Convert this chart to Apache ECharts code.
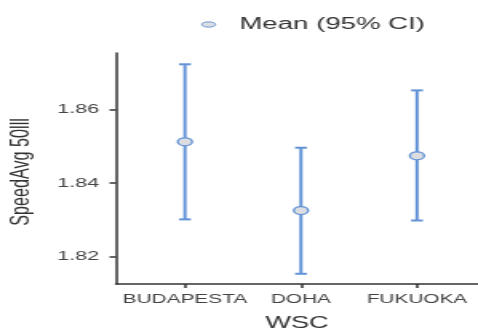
<!DOCTYPE html>
<html>
<head>
<meta charset="utf-8">
<script src="https://cdn.jsdelivr.net/npm/echarts@6/dist/echarts.min.js"></script>
<style>
html,body{margin:0;padding:0;background:#fff;overflow:hidden;}
#chart{width:299px;height:331px;transform:scaleX(1.5987);transform-origin:0 0;}
</style>
</head>
<body>
<div id="chart"></div>
<script>
const categories = ['BUDAPESTA', 'DOHA', 'FUKUOKA'];
const means = [1.8512, 1.8325, 1.8474];
const lower = [1.8301, 1.8153, 1.8298];
const upper = [1.8723, 1.8496, 1.8652];
const yTicks = [1.82, 1.84, 1.86];
const legendName = 'Mean (95% CI)';
const xName = 'WSC';
const yName = 'SpeedAvg 50lll';

const FONT = "'Liberation Sans', Arial, sans-serif";
const BLUE = '#6393d6';
const FILL = '#dcdde0';
const chart = echarts.init(document.getElementById('chart'));

const idx = categories.map((c, i) => i);
const barData = idx.map(i => [i, lower[i], upper[i]]);
const meanData = idx.map(i => [i, means[i]]);

chart.setOption({
  animation: false,
  backgroundColor: '#fff',
  grid: { left: 72.5, right: 0, top: 53, bottom: 47, containLabel: false, outerBoundsMode: 'none' },
  legend: {
    data: [{
      name: legendName,
      icon: 'path://M0,5 A8,5 0 1,1 16,5 A8,5 0 1,1 0,5 Z',
      itemStyle: { color: FILL, borderColor: BLUE, borderWidth: 1 }
    }],
    left: 120.8, top: 11,
    itemWidth: 8.4, itemHeight: 5.2,
    textStyle: { fontFamily: FONT, fontSize: 17.3, color: '#333', padding: [0, 0, 0, 10] }
  },
  xAxis: {
    type: 'value',
    min: -0.595, max: 2.526,
    name: xName, nameLocation: 'middle', nameGap: 31,
    nameTextStyle: { fontFamily: FONT, fontSize: 17, color: '#333' },
    splitLine: { show: false },
    axisLine: { show: true, onZero: false, lineStyle: { color: '#333', width: 1.5 } },
    axisTick: { show: true, customValues: idx, length: 4, lineStyle: { color: '#333', width: 1.5 } },
    axisLabel: {
      customValues: idx, margin: 9,
      fontFamily: FONT, fontSize: 13, color: '#444',
      formatter: v => categories[Math.round(v)] || ''
    }
  },
  yAxis: {
    type: 'value',
    min: 1.81252, max: 1.87537,
    splitLine: { show: false },
    axisLine: { show: true, onZero: false, lineStyle: { color: '#333', width: 1.5 } },
    axisTick: { show: true, customValues: yTicks, length: 4, lineStyle: { color: '#333', width: 1.5 } },
    axisLabel: {
      customValues: yTicks, margin: 10.5,
      fontFamily: FONT, fontSize: 13.5, color: '#444',
      formatter: v => v.toFixed(2)
    }
  },
  graphic: [{
    type: 'text',
    x: 13.8, y: 172,
    rotation: Math.PI / 2,
    style: { text: yName, fontSize: 16.2, fontFamily: FONT, fill: '#333', align: 'center', verticalAlign: 'middle' }
  }],
  series: [
    {
      type: 'custom',
      name: 'ci',
      data: barData,
      encode: { x: 0, y: [1, 2] },
      z: 2,
      renderItem: function (params, api) {
        const x = api.value(0);
        const lo = api.coord([x, api.value(1)]);
        const hi = api.coord([x, api.value(2)]);
        const hw = 3.7;
        const style = { stroke: BLUE, lineWidth: 2, fill: null };
        return {
          type: 'group',
          children: [
            { type: 'line', shape: { x1: lo[0], y1: lo[1], x2: hi[0], y2: hi[1] }, style: style },
            { type: 'line', shape: { x1: lo[0] - hw, y1: lo[1], x2: lo[0] + hw, y2: lo[1] }, style: style },
            { type: 'line', shape: { x1: hi[0] - hw, y1: hi[1], x2: hi[0] + hw, y2: hi[1] }, style: style }
          ]
        };
      }
    },
    {
      type: 'scatter',
      name: legendName,
      data: meanData,
      symbol: 'circle',
      symbolSize: [9, 8],
      z: 3,
      itemStyle: { color: FILL, borderColor: BLUE, borderWidth: 1.3, opacity: 1 }
    }
  ]
});
</script>
</body>
</html>
